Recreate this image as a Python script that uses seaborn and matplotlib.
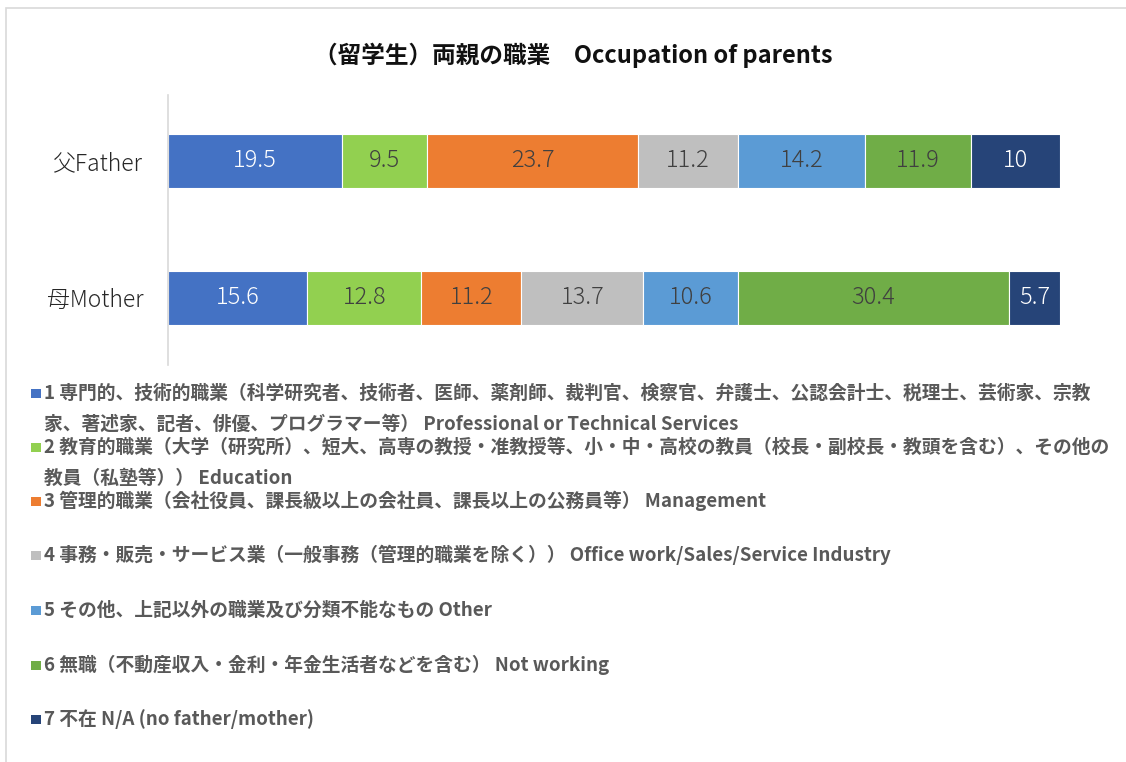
import numpy as np
import pandas as pd
import matplotlib
matplotlib.use("Agg")
import matplotlib.pyplot as plt
from matplotlib.patches import Rectangle
import seaborn as sns

# ---- data -------------------------------------------------------------
persons = ["父Father", "母Mother"]

categories = [
    "1 専門的、技術的職業（科学研究者、技術者、医師、薬剤師、裁判官、検察官、弁護士、公認会計士、税理士、芸術家、宗教\n"
    "家、著述家、記者、俳優、プログラマー等） Professional or Technical Services",
    "2 教育的職業（大学（研究所）、短大、高専の教授・准教授等、小・中・高校の教員（校長・副校長・教頭を含む）、その他の\n"
    "教員（私塾等）） Education",
    "3 管理的職業（会社役員、課長級以上の会社員、課長以上の公務員等） Management",
    "4 事務・販売・サービス業（一般事務（管理的職業を除く）） Office work/Sales/Service Industry",
    "5 その他、上記以外の職業及び分類不能なもの Other",
    "6 無職（不動産収入・金利・年金生活者などを含む） Not working",
    "7 不在 N/A (no father/mother)",
]

father = [19.5, 9.5, 23.7, 11.2, 14.2, 11.9, 10]
mother = [15.6, 12.8, 11.2, 13.7, 10.6, 30.4, 5.7]

colors = ["#4472C4", "#92D050", "#ED7D31", "#BFBFBF", "#5B9BD5", "#70AD47", "#264478"]
label_colors = ["white", "#404040", "#404040", "#404040", "#404040", "#404040", "white"]

title = "（留学生）両親の職業　Occupation of parents"

# ---- style ------------------------------------------------------------
sns.set_theme(style="white")
plt.rcParams["font.family"] = ["Noto Sans CJK JP", "DejaVu Sans"]

W, H = 1126, 762
fig = plt.figure(figsize=(W / 100, H / 100), dpi=100)
ax = fig.add_axes([168 / W, 1 - 365 / H, (1060 - 168) / W, (365 - 95) / H])

values = np.array([father, mother])          # rows: persons, cols: categories
starts = np.cumsum(values, axis=1) - values

for j, cat in enumerate(categories):
    df = pd.DataFrame({"person": persons, "value": values[:, j]})
    sns.barplot(data=df, y="person", x="value", orient="h", order=persons,
                left=starts[:, j], color=colors[j], saturation=1, width=0.39,
                errorbar=None, edgecolor="white", linewidth=0.8, ax=ax)
    for i in range(len(persons)):
        v = values[i, j]
        ax.text(starts[i, j] + v / 2, i, f"{v:g}", ha="center", va="center",
                fontsize=17, fontweight="light", color=label_colors[j])

ax.set_xlim(0, 100)
ax.set_ylim(1.49, -0.48)
ax.set_xlabel("")
ax.set_ylabel("")
ax.set_xticks([])
ax.tick_params(axis="y", length=0, pad=18, labelsize=16.5, labelcolor="#262626")
for lbl in ax.get_yticklabels():
    lbl.set_fontweight("light")
for s in ["top", "right", "bottom"]:
    ax.spines[s].set_visible(False)
ax.spines["left"].set_color("#d9d9d9")
ax.spines["left"].set_linewidth(1.2)

# ---- title ------------------------------------------------------------
fig.text(573 / W, 1 - 55 / H, title, ha="center", va="center",
         fontsize=17, fontweight="bold", color="#111111")

# ---- legend below the plot -------------------------------------------
entry_y = [393, 447, 501, 555, 610, 665, 719]
for j, cat in enumerate(categories):
    y0 = entry_y[j]
    fig.add_artist(Rectangle((31 / W, 1 - (y0 + 5) / H), 9.5 / W, 9.5 / H,
                             transform=fig.transFigure, facecolor=colors[j],
                             edgecolor="none"))
    for k, line in enumerate(cat.split("\n")):
        fig.text(44 / W, 1 - (y0 + 31 * k) / H, line, ha="left", va="center",
                 fontsize=13.5, fontweight="bold", color="#595959")

# ---- chart frame ------------------------------------------------------
fig.add_artist(Rectangle((6 / W, -0.1), 1.2, (1 - 8 / H) + 0.1,
                         transform=fig.transFigure, fill=False,
                         edgecolor="#d9d9d9", linewidth=1.2))

fig.savefig("out.png", dpi=100)
